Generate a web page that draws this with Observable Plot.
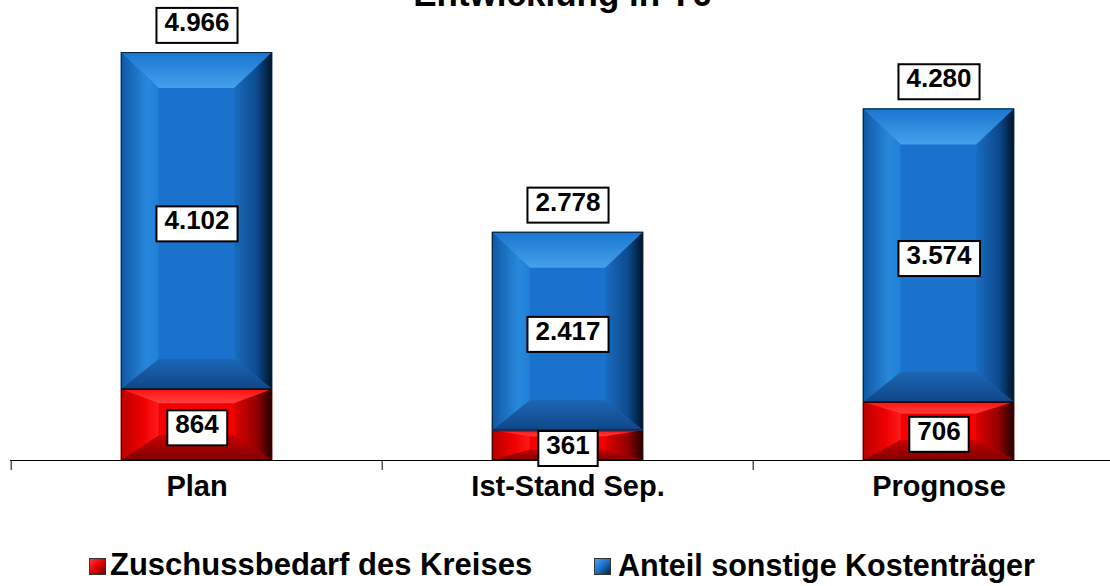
<!DOCTYPE html>
<html>
<head>
<meta charset="utf-8">
<script src="https://cdn.jsdelivr.net/npm/d3@7"></script>
<script src="https://cdn.jsdelivr.net/npm/@observablehq/plot@0.6"></script>
<style>
  body { margin: 0; background: #fff; font-family: "Liberation Sans", Arial, sans-serif; }
  #wrap { position: relative; width: 1110px; height: 586px; overflow: hidden; background: #fff; }
  #title { position: absolute; left: 0; top: -24px; width: 1110px; padding-left: 14px; box-sizing: border-box;
           text-align: center; font-size: 35px; line-height: 35px; font-weight: bold; color: #000; z-index: 2; }
  #chart { position: absolute; left: 0; top: 0; }
  #chart svg { font-family: "Liberation Sans", Arial, sans-serif; }
  .leg { position: absolute; top: 550px; line-height: 30px; font-weight: bold; color: #000; white-space: nowrap; }
  .sw { position: absolute; top: 558px; width: 15px; height: 15px; border: 1px solid #333; }
</style>
</head>
<body>
<div id="wrap">
  <div id="chart"></div>
  <div id="title">Entwicklung in T€</div>
  <div id="legend"></div>
</div>
<script>
// ---- data ----
const categories = ["Plan", "Ist-Stand Sep.", "Prognose"];
const series = ["Zuschussbedarf des Kreises", "Anteil sonstige Kostenträger"];
const zuschuss = [864, 361, 706];
const sonstige = [4102, 2417, 3574];
const totals = [4966, 2778, 4280];
const seriesColors = ["#f00000", "#1a70c8"];

const rows = categories.flatMap((c, i) => [
  {cat: c, series: series[0], value: zuschuss[i]},
  {cat: c, series: series[1], value: sonstige[i]}
]);
const totalRows = categories.map((c, i) => ({cat: c, total: totals[i]}));
const fmt = d3.formatLocale({decimal: ",", thousands: ".", grouping: [3], currency: ["", "€"]}).format(",d");

const xRange = [10, 1125];
const step = (xRange[1] - xRange[0]) / categories.length;
const barW = 152;
const inset = (step - barW) / 2;

const chart = Plot.plot({
  width: 1110,
  height: 530,
  marginTop: 0,
  marginBottom: 70,
  marginLeft: 10,
  marginRight: 0,
  x: {domain: categories, range: xRange, padding: 0, label: null},
  y: {domain: [0, 5600], axis: null},
  color: {domain: series, range: seriesColors},
  marks: [
    Plot.barY(rows, Plot.stackY({x: "cat", y: "value", z: "series", fill: "series", insetLeft: inset, insetRight: inset})),
    Plot.ruleY([0], {stroke: "#000", strokeWidth: 1.2}),
    Plot.ruleX(categories, {x: d => d, y1: 0, y2: 0, insetBottom: -10, dx: -step / 2, stroke: "#000", strokeWidth: 1}),
    Plot.axisX({tickSize: 0, tickPadding: 15, fontSize: 29, fontWeight: "bold", fill: "#000", label: null}),
    Plot.text(rows, Plot.stackY({x: "cat", y: "value", z: "series", text: d => fmt(d.value),
      fontSize: 26, fontWeight: "bold", fill: "#000"})),
    Plot.text(totalRows, {x: "cat", y: "total", dy: -30, text: d => fmt(d.total),
      fontSize: 26, fontWeight: "bold", fill: "#000"})
  ]
});
document.getElementById("chart").append(chart);

// ---- bevel styling of the bars drawn by Plot ----
const NS = "http://www.w3.org/2000/svg";
function el(tag, attrs) { const e = document.createElementNS(NS, tag); for (const k in attrs) e.setAttribute(k, attrs[k]); return e; }
function grad(id, dir, stops) {
  const g = el("linearGradient", {id, x1: 0, y1: 0, x2: dir === "h" ? 1 : 0, y2: dir === "v" ? 1 : 0});
  stops.forEach(([o, c]) => g.append(el("stop", {offset: o, "stop-color": c})));
  return g;
}
const PAL = [
  {key: "r", center: "#f40000",
   top: [[0, "#ff1010"], [1, "#ff4040"]],
   left: [[0, "#b80000"], [0.6, "#f00000"], [1, "#ff1a1a"]],
   right: [[0, "#e00000"], [0.6, "#900000"], [1, "#200000"]],
   bottom: [[0, "#c80000"], [1, "#800000"]], edge: "#3a0000"},
  {key: "b", center: "#1a72cc",
   top: [[0, "#1a76d0"], [1, "#45a0ec"]],
   left: [[0, "#0e58a4"], [0.7, "#2888dc"], [1, "#2080d6"]],
   right: [[0, "#1a6cc0"], [0.6, "#0c4a8c"], [1, "#001428"]],
   bottom: [[0, "#1c66b4"], [1, "#0f4686"]], edge: "#0a1e33"}
];
const svg = chart.tagName.toLowerCase() === "svg" ? chart : chart.querySelector("svg");
const defs = el("defs", {});
PAL.forEach(p => defs.append(
  grad(p.key + "top", "v", p.top),
  grad(p.key + "left", "h", p.left),
  grad(p.key + "right", "h", p.right),
  grad(p.key + "bottom", "v", p.bottom)
));
svg.prepend(defs);
const pts = a => a.map(p => p.join(",")).join(" ");
svg.querySelectorAll('g[aria-label="bar"] rect').forEach(r => {
  const fill = (r.getAttribute("fill") || "").toLowerCase();
  const p = PAL[Math.max(0, seriesColors.indexOf(fill))];
  const x = +r.getAttribute("x"), y = +r.getAttribute("y"), w = +r.getAttribute("width"), h = +r.getAttribute("height");
  const bx = Math.min(38, w * 0.25), bt = Math.min(36, h * 0.2), bb = Math.min(30, h * 0.35);
  const ix1 = x + bx, ix2 = x + w - bx, iy1 = y + bt, iy2 = y + h - bb;
  const g = el("g", {});
  g.append(
    el("rect", {x, y, width: w, height: h, fill: p.center}),
    el("polygon", {points: pts([[x, y], [x + w, y], [ix2, iy1], [ix1, iy1]]), fill: `url(#${p.key}top)`}),
    el("polygon", {points: pts([[x, y + h], [x + w, y + h], [ix2, iy2], [ix1, iy2]]), fill: `url(#${p.key}bottom)`}),
    el("polygon", {points: pts([[x, y], [ix1, iy1], [ix1, iy2], [x, y + h]]), fill: `url(#${p.key}left)`}),
    el("polygon", {points: pts([[x + w, y], [ix2, iy1], [ix2, iy2], [x + w, y + h]]), fill: `url(#${p.key}right)`}),
    el("rect", {x: x + 0.5, y: y + 0.5, width: w - 1, height: h - 1, fill: "none", stroke: p.edge, "stroke-width": 1})
  );
  r.replaceWith(g);
});

// ---- white boxes behind value labels ----
svg.querySelectorAll('g[aria-label="text"] text').forEach(t => {
  const b = t.getBBox();
  const rect = el("rect", {x: b.x - 8, y: b.y + 1, width: b.width + 16, height: b.height + 5,
    fill: "#fff", stroke: "#000", "stroke-width": 2});
  const tr = t.getAttribute("transform");
  if (tr) rect.setAttribute("transform", tr);
  t.parentNode.insertBefore(rect, t);
});

// ---- legend ----
const legend = document.getElementById("legend");
const legPos = [{sw: 89, tx: 110, fs: 31}, {sw: 594, tx: 618, fs: 30.5}];
const swGrad = ["linear-gradient(135deg, #ff3a3a 0%, #e00000 50%, #700000 100%)",
                "linear-gradient(135deg, #4aa2ee 0%, #1a70c8 50%, #002040 100%)"];
series.forEach((s, i) => {
  const sw = document.createElement("div");
  sw.className = "sw"; sw.style.left = legPos[i].sw + "px"; sw.style.background = swGrad[i];
  const tx = document.createElement("div");
  tx.className = "leg"; tx.style.left = legPos[i].tx + "px"; tx.style.fontSize = legPos[i].fs + "px"; tx.textContent = s;
  legend.append(sw, tx);
});
</script>
</body>
</html>
